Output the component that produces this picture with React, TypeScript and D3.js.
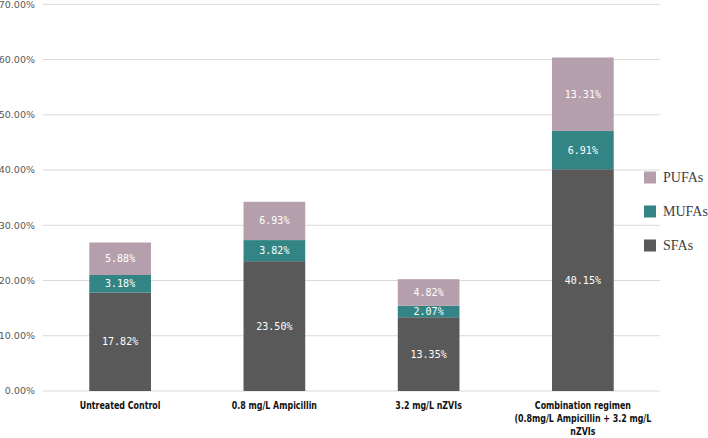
import React from "react";
import * as d3 from "d3";

const categories = [
  ["Untreated Control"],
  ["0.8 mg/L Ampicillin"],
  ["3.2 mg/L nZVIs"],
  ["Combination regimen", "(0.8mg/L Ampicillin + 3.2 mg/L", "nZVIs"],
];
const seriesNames = ["SFAs", "MUFAs", "PUFAs"];
const sfa = [17.82, 23.5, 13.35, 40.15];
const mufa = [3.18, 3.82, 2.07, 6.91];
const pufa = [5.88, 6.93, 4.82, 13.31];
const yTicks = [0, 10, 20, 30, 40, 50, 60, 70];
const colors = ["#595959", "#338585", "#b59fac"];

const W = 708;
const H = 438;
const left = 43;
const right = 660;
const top = 4.3;
const bottom = 391;

export default function App() {
  const x = d3
    .scaleBand<number>()
    .domain(categories.map((_, i) => i))
    .range([left, right])
    .paddingInner(0.6)
    .paddingOuter(0.3);
  const y = d3.scaleLinear().domain([0, 70]).range([bottom, top]);
  const data = categories.map((_, i) => ({ i, SFAs: sfa[i], MUFAs: mufa[i], PUFAs: pufa[i] }));
  const stack = d3.stack<any>().keys(seriesNames)(data);

  return (
    <svg width={W} height={H} style={{ position: "absolute", left: 0, top: 0, background: "#fff" }}>
      {yTicks.map((t) => (
        <g key={t}>
          <line x1={left} x2={right} y1={y(t)} y2={y(t)} stroke="#d9d9d9" strokeWidth={1} />
          <text
            x={35}
            y={y(t)}
            dy="0.35em"
            textAnchor="end"
            fontFamily="DejaVu Sans"
            fontSize={9.5}
            fill="#595959"
          >
            {t.toFixed(2)}%
          </text>
        </g>
      ))}
      {stack.map((layer, si) => (
        <g key={layer.key}>
          {layer.map((d, i) => (
            <g key={i}>
              <rect
                x={x(i)}
                width={x.bandwidth()}
                y={y(d[1])}
                height={y(d[0]) - y(d[1])}
                fill={colors[si]}
              />
              <text
                x={(x(i) as number) + x.bandwidth() / 2}
                y={(y(d[0]) + y(d[1])) / 2}
                dy="0.35em"
                textAnchor="middle"
                fontFamily="DejaVu Sans Mono"
                fontSize={10}
                fill="#ffffff"
              >
                {(d[1] - d[0]).toFixed(2)}%
              </text>
            </g>
          ))}
        </g>
      ))}
      {categories.map((lines, i) => {
        const cx = (x(i) as number) + x.bandwidth() / 2;
        return (
          <text
            key={i}
            transform={`translate(${cx},409) scale(0.8,1)`}
            textAnchor="middle"
            fontFamily="'DejaVu Sans Condensed', sans-serif"
            fontWeight="bold"
            fontSize={11}
            fill="#111"
          >
            {lines.map((l, k) => (
              <tspan key={k} x={0} dy={k === 0 ? 0 : 13}>
                {l}
              </tspan>
            ))}
          </text>
        );
      })}
      {["PUFAs", "MUFAs", "SFAs"].map((name, k) => {
        const si = seriesNames.indexOf(name);
        const cy = 177.5 + k * 34;
        return (
          <g key={name}>
            <rect x={644} y={cy - 6} width={12} height={12} fill={colors[si]} />
            <text
              x={663}
              y={cy}
              dy="0.35em"
              fontFamily="'Liberation Serif', serif"
              fontSize={14}
              fill="#404040"
            >
              {name}
            </text>
          </g>
        );
      })}
    </svg>
  );
}
